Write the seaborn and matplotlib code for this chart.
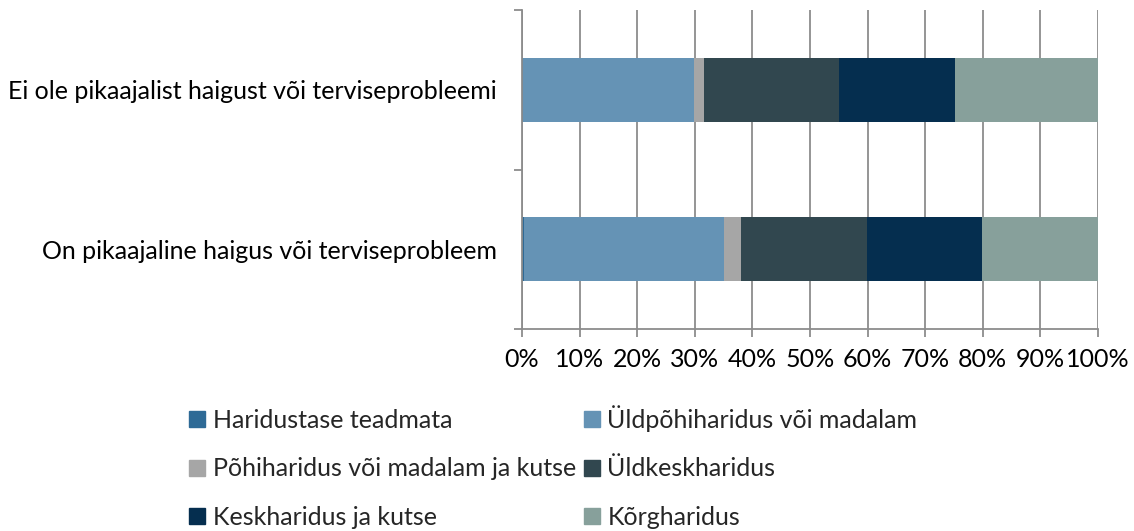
import matplotlib
matplotlib.use("Agg")
import matplotlib.pyplot as plt
import seaborn as sns
import pandas as pd
import numpy as np
from matplotlib.lines import Line2D

categories = ["Ei ole pikaajalist haigust või terviseprobleemi",
              "On pikaajaline haigus või terviseprobleem"]
series_names = ["Haridustase teadmata", "Üldpõhiharidus või madalam",
                "Põhiharidus või madalam ja kutse", "Üldkeskharidus",
                "Keskharidus ja kutse", "Kõrgharidus"]
teadmata = [0.1, 0.4]
uldpohi = [29.7, 34.6]
pohi_kutse = [1.8, 3.0]
uldkesk = [23.5, 21.9]
kesk_kutse = [20.0, 20.0]
korg = [24.9, 20.1]
colors = ["#2E6A96", "#6593B5", "#A6A6A6", "#31474F", "#052E4F", "#87A09B"]
x_ticks = list(range(0, 101, 10))
x_labels = [f"{t}%" for t in x_ticks]

sns.set_theme(style="white")
plt.rcParams['font.family'] = ['Lato', 'DejaVu Sans']
FS = 18

values = [teadmata, uldpohi, pohi_kutse, uldkesk, kesk_kutse, korg]
df = pd.DataFrame({"category": categories})
for name, v in zip(series_names, values):
    df[name] = v
cum = df[series_names].cumsum(axis=1)

fig = plt.figure(figsize=(11.34, 5.31), dpi=100)
ax = fig.add_axes([522/1134, 1-329/531, (1098-522)/1134, (329-10)/531])

for name, col in reversed(list(zip(series_names, colors))):
    sns.barplot(x=cum[name], y=df["category"], orient="h", color=col,
                width=0.4, linewidth=0, saturation=1, ax=ax, order=categories)

ax.set_xlim(0, 100)
ax.set_ylim(1.5, -0.5)
ax.set_xlabel("")
ax.set_ylabel("")
ax.set_xticks(x_ticks)
ax.set_xticklabels(x_labels, fontsize=FS, color="black")
ax.set_yticks([0, 1])
ax.set_yticklabels(categories, fontsize=FS, color="black")
ax.set_yticks([-0.5, 0.5, 1.5], minor=True)
ax.tick_params(axis="y", which="major", length=0, pad=18)
ax.tick_params(axis="y", which="minor", length=6, width=1.3, color="#8c8c8c", direction="out", left=True)
ax.tick_params(axis="x", which="major", length=6, width=1.3, color="#8c8c8c", direction="out", bottom=True, pad=8)
ax.xaxis.grid(True, color="#8c8c8c", lw=1.3)
ax.set_axisbelow(True)
for s in ["top", "right"]:
    ax.spines[s].set_visible(False)
for s in ["left", "bottom"]:
    ax.spines[s].set_color("#8c8c8c")
    ax.spines[s].set_linewidth(1.3)

handles = [Line2D([], [], marker="s", ls="", color=c, markersize=11.5) for c in colors]
order = [0, 2, 4, 1, 3, 5]
fig.legend([handles[i] for i in order], [series_names[i] for i in order],
           ncol=2, loc="upper left", bbox_to_anchor=(189/1134, 1-405/531),
           frameon=False, fontsize=FS, handlelength=0.65, handletextpad=0.3,
           columnspacing=0.3, labelspacing=1.02, borderpad=0, borderaxespad=0)

fig.savefig("out.png", dpi=100)
